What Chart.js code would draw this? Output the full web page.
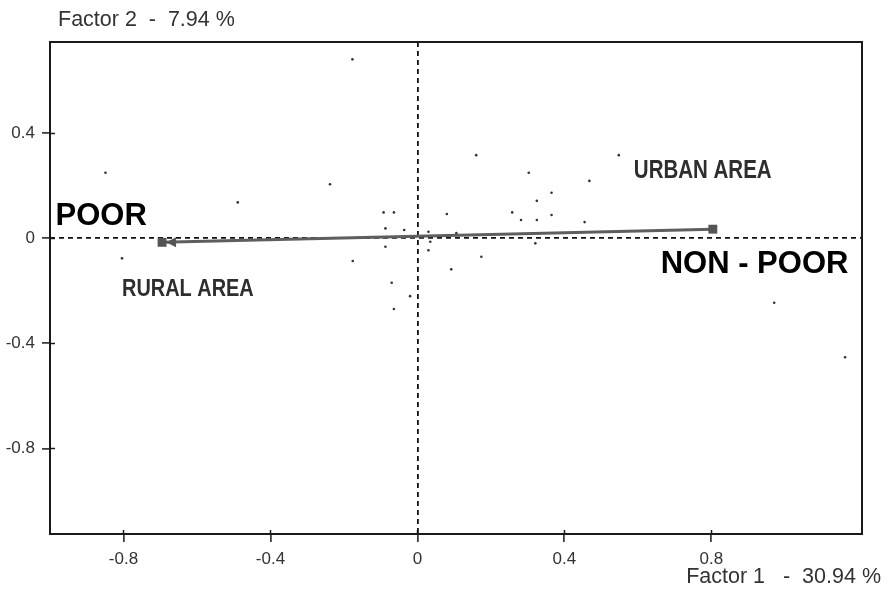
<!DOCTYPE html>
<html>
<head>
<meta charset="utf-8">
<script src="https://cdn.jsdelivr.net/npm/chart.js@4/dist/chart.umd.min.js"></script>
<style>
  body { margin: 0; background: #fff; }
  #wrap { width: 889px; height: 597px; }
</style>
</head>
<body>
<div id="wrap"><canvas id="chart" width="889" height="597"></canvas></div>
<script>
// modality points (factor 1, factor 2)
const pointsF1 = [-0.177, -0.849, -0.238, -0.489, -0.092, -0.064, -0.087, -0.036, 0.030, 0.080,
  -0.087, 0.030, 0.035, -0.804, -0.176, -0.070, -0.020, -0.064, 0.365, 0.325,
  0.258, 0.282, 0.325, 0.365, 0.455, 0.106, 0.321, 0.174, 0.092, 0.971,
  1.164, 0.160, 0.548, 0.303, 0.468];
const pointsF2 = [0.682, 0.250, 0.206, 0.137, 0.099, 0.099, 0.038, 0.032, 0.025, 0.093,
  -0.032, -0.045, -0.013, -0.076, -0.086, -0.169, -0.220, -0.269, 0.174, 0.143,
  0.099, 0.070, 0.070, 0.089, 0.062, 0.020, -0.019, -0.070, -0.118, -0.245,
  -0.453, 0.317, 0.317, 0.250, 0.219];

// area modalities: rural -> urban
const areaNames = ["RURAL AREA", "URBAN AREA"];
const areaF1 = [-0.695, 0.804];
const areaF2 = [-0.015, 0.035];

const xTicks = [-0.8, -0.4, 0, 0.4, 0.8];
const yTicks = [0.4, 0, -0.4, -0.8];

const xTitle = "Factor 1   -  30.94 %";
const yTitle = "Factor 2  -  7.94 %";

// text labels placed in factor coordinates
const boldFont = "'Liberation Sans', Arial, sans-serif";
const notes = [
  { text: "POOR", x: -0.985, y: 0.051, align: "left", font: "bold 31px " + boldFont, color: "#000", sx: 1 },
  { text: "NON - POOR", x: 1.173, y: -0.130, align: "right", font: "bold 31px " + boldFont, color: "#000", sx: 1 },
  { text: "URBAN AREA", x: 0.589, y: 0.229, align: "left", font: "bold 25px " + boldFont, color: "#2e2e2e", sx: 0.82 },
  { text: "RURAL AREA", x: -0.804, y: -0.220, align: "left", font: "bold 24px " + boldFont, color: "#2e2e2e", sx: 0.83 }
];

const tickFont = { family: "'Liberation Sans', Arial, sans-serif", size: 17 };

const framePlugin = {
  id: "frame",
  afterDraw(chart) {
    const ctx = chart.ctx;
    const a = chart.chartArea;
    const xs = chart.scales.x;
    const ys = chart.scales.y;
    ctx.save();

    // box
    ctx.strokeStyle = "#1a1a1a";
    ctx.lineWidth = 2;
    ctx.strokeRect(a.left, a.top, a.right - a.left, a.bottom - a.top);

    // inner part of tick marks
    ctx.lineWidth = 1.5;
    xTicks.forEach(v => {
      const px = Math.round(xs.getPixelForValue(v)) + 0.5;
      ctx.beginPath();
      ctx.moveTo(px, a.bottom);
      ctx.lineTo(px, a.bottom - 4);
      ctx.stroke();
    });
    yTicks.forEach(v => {
      const py = Math.round(ys.getPixelForValue(v)) + 0.5;
      ctx.beginPath();
      ctx.moveTo(a.left, py);
      ctx.lineTo(a.left + 5, py);
      ctx.stroke();
    });

    // arrow head at the rural end of the line
    const meta = chart.getDatasetMeta(1);
    const p = meta.data[0];
    ctx.fillStyle = "#555";
    ctx.beginPath();
    ctx.moveTo(p.x + 4, p.y);
    ctx.lineTo(p.x + 14, p.y - 5);
    ctx.lineTo(p.x + 14, p.y + 5);
    ctx.closePath();
    ctx.fill();

    // labels (narrow ones squeezed horizontally)
    notes.forEach(n => {
      const px = xs.getPixelForValue(n.x);
      const py = ys.getPixelForValue(n.y);
      ctx.save();
      ctx.translate(px, py);
      ctx.scale(n.sx, 1);
      ctx.font = n.font;
      ctx.fillStyle = n.color;
      ctx.textAlign = n.align;
      ctx.textBaseline = "alphabetic";
      ctx.fillText(n.text, 0, 0);
      ctx.restore();
    });

    // axis titles
    ctx.font = "21.5px 'Liberation Sans', Arial, sans-serif";
    ctx.fillStyle = "#333";
    ctx.textAlign = "left";
    ctx.fillText(yTitle, 58, 26);
    ctx.textAlign = "right";
    ctx.fillText(xTitle, 881, 583);
    ctx.restore();
  }
};

const zeroGrid = (ctx) => (ctx.tick && ctx.tick.value === 0 ? "#111" : "rgba(0,0,0,0)");

new Chart(document.getElementById("chart"), {
  type: "scatter",
  data: {
    datasets: [
      {
        label: "modalities",
        data: pointsF1.map((x, i) => ({ x: x, y: pointsF2[i] })),
        pointRadius: 1.3,
        pointBackgroundColor: "#333",
        pointBorderWidth: 0,
        order: 2
      },
      {
        type: "line",
        label: "area",
        data: areaF1.map((x, i) => ({ x: x, y: areaF2[i], name: areaNames[i] })),
        borderColor: "#5e5e5e",
        borderWidth: 3,
        pointStyle: "rect",
        pointRadius: 6.3,
        pointBackgroundColor: "#555",
        pointBorderWidth: 0,
        showLine: true,
        fill: false,
        order: 1
      }
    ]
  },
  options: {
    responsive: false,
    animation: false,
    layout: { padding: { top: 42, right: 27, left: 0, bottom: 0 } },
    plugins: { legend: { display: false }, tooltip: { enabled: false } },
    scales: {
      x: {
        type: "linear",
        min: -1.0,
        max: 1.21,
        afterBuildTicks: (s) => { s.ticks = xTicks.map(v => ({ value: v })); },
        afterFit: (s) => { s.height = 63; },
        ticks: { color: "#333", font: tickFont, padding: 7, maxRotation: 0, callback: v => String(v) },
        grid: { color: zeroGrid, lineWidth: 1.8, tickColor: "#1a1a1a", tickWidth: 1.5, tickLength: 8 },
        border: { display: false, dash: [5, 4] }
      },
      y: {
        type: "linear",
        min: -1.126,
        max: 0.748,
        afterBuildTicks: (s) => { s.ticks = yTicks.map(v => ({ value: v })); },
        afterFit: (s) => { s.width = 50; },
        ticks: { color: "#333", font: tickFont, padding: 7, callback: v => String(v) },
        grid: { color: zeroGrid, lineWidth: 1.8, tickColor: "#1a1a1a", tickWidth: 1.5, tickLength: 8 },
        border: { display: false, dash: [5, 4] }
      }
    }
  },
  plugins: [framePlugin]
});
</script>
</body>
</html>
